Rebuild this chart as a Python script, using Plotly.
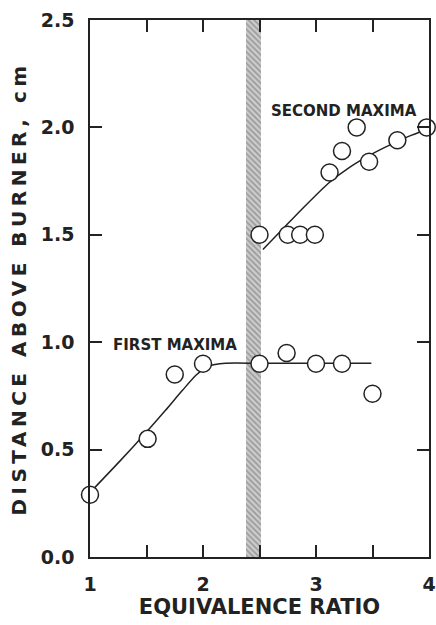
import plotly.graph_objects as go

# Measured flame-zone maxima: distance above burner vs. equivalence ratio
first_phi = [1.0, 1.51, 1.75, 2.0, 2.5, 2.74, 3.0, 3.23, 3.5]
first_dist = [0.29, 0.55, 0.85, 0.90, 0.90, 0.95, 0.90, 0.90, 0.76]

second_phi = [2.5, 2.75, 2.86, 2.99, 3.12, 3.23, 3.36, 3.47, 3.72, 3.98]
second_dist = [1.50, 1.50, 1.50, 1.50, 1.79, 1.89, 2.00, 1.84, 1.94, 2.00]

# Hand-drawn trend curves through the data
first_fit_phi = [1.0, 1.26, 1.49, 1.67, 1.82, 1.94, 2.05, 2.2, 2.5, 3.0, 3.49]
first_fit_dist = [0.30, 0.444, 0.576, 0.684, 0.777, 0.847, 0.889, 0.902, 0.902, 0.902, 0.902]

second_fit_phi = [2.53, 2.72, 2.89, 3.11, 3.30, 3.48, 3.66, 3.82, 3.98]
second_fit_dist = [1.432, 1.535, 1.627, 1.74, 1.815, 1.872, 1.92, 1.958, 1.99]

# Transition region between the two regimes
band_start, band_end = 2.38, 2.51
band_top = 2.5

x_range = [1, 4]
y_range = [0, 2.5]
x_ticks = [1, 1.5, 2, 2.5, 3, 3.5, 4]
x_tick_text = ["1", "", "2", "", "3", "", "4"]
y_ticks = [0.0, 0.5, 1.0, 1.5, 2.0, 2.5]
y_tick_text = ["0.0", "0.5", "1.0", "1.5", "2.0", "2.5"]

ink = "#222222"
wide_font = "DejaVu Sans, Verdana, sans-serif"
TICK_LEN = 12

fig = go.Figure()

fig.add_trace(go.Bar(
    x=[(band_start + band_end) / 2], y=[band_top], base=0,
    width=[band_end - band_start],
    marker=dict(color="#c8c8c8", line=dict(width=0),
                pattern=dict(shape="\\", fgcolor="#666666", bgcolor="#cccccc",
                             size=4, solidity=0.4)),
    hoverinfo="skip", showlegend=False,
))

line_style = dict(color=ink, width=1.5)
fig.add_trace(go.Scatter(x=first_fit_phi, y=first_fit_dist, mode="lines",
                         line=dict(shape="spline", smoothing=0.6, **line_style),
                         showlegend=False, hoverinfo="skip"))
fig.add_trace(go.Scatter(x=second_fit_phi, y=second_fit_dist, mode="lines",
                         line=dict(shape="spline", smoothing=0.6, **line_style),
                         showlegend=False, hoverinfo="skip"))

marker_style = dict(symbol="circle", size=17, color="white",
                    line=dict(color=ink, width=1.5))
fig.add_trace(go.Scatter(x=first_phi, y=first_dist, mode="markers",
                         marker=marker_style, showlegend=False, cliponaxis=False))
fig.add_trace(go.Scatter(x=second_phi, y=second_dist, mode="markers",
                         marker=marker_style, showlegend=False, cliponaxis=False))

label_font = dict(family=wide_font, size=15, color=ink, weight="bold")
fig.add_annotation(x=2.58, y=2.077, text="SECOND MAXIMA", showarrow=False,
                   xanchor="left", yanchor="middle", font=label_font)
fig.add_annotation(x=1.185, y=0.987, text="FIRST MAXIMA", showarrow=False,
                   xanchor="left", yanchor="middle", font=label_font)

# Closed frame with inward ticks mirrored on the opposite edges
axis_common = dict(showline=True, linecolor=ink, linewidth=1.5, mirror="allticks",
                   ticks="inside", ticklen=TICK_LEN, tickwidth=2, tickcolor=ink,
                   showgrid=False, zeroline=False, automargin=False,
                   layer="above traces",
                   tickfont=dict(family=wide_font, size=19, color=ink, weight="bold"))

fig.update_layout(
    template="simple_white",
    width=436, height=625,
    margin=dict(l=90, r=7, t=20, b=68),
    plot_bgcolor="white", paper_bgcolor="white",
    bargap=0,
    xaxis=dict(range=x_range, tickmode="array", tickvals=x_ticks, ticktext=x_tick_text,
               ticklabelstandoff=9,
               title=dict(text="EQUIVALENCE RATIO", standoff=5,
                          font=dict(family=wide_font, size=21, color=ink, weight="bold")),
               **axis_common),
    yaxis=dict(range=y_range, tickmode="array", tickvals=y_ticks, ticktext=y_tick_text,
               ticklabelstandoff=10,
               title=dict(text='<span style="letter-spacing:4.5px">DISTANCE ABOVE BURNER, cm</span>',
                          standoff=9,
                          font=dict(family=wide_font, size=20, color=ink, weight="bold")),
               **axis_common),
)

fig.write_html("out.html")
